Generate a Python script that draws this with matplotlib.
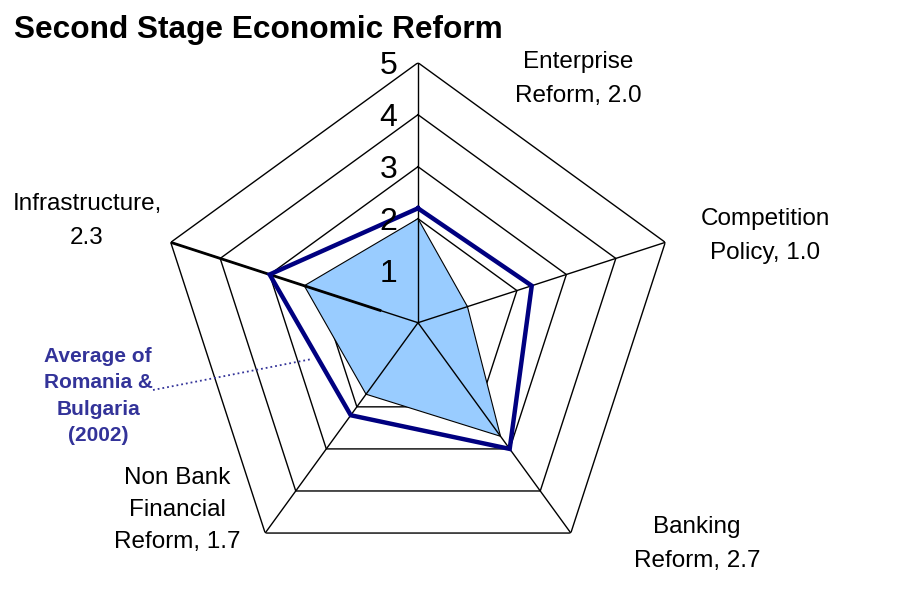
import numpy as np
import matplotlib.pyplot as plt
from matplotlib.lines import Line2D

plt.rcParams['font.family'] = ['Liberation Sans', 'DejaVu Sans']

# data
categories = ['Enterprise\nReform, 2.0', 'Competition\nPolicy, 1.0', 'Banking\nReform, 2.7',
              'Non Bank\nFinancial\nReform, 1.7', 'Infrastructure,\n2.3']
second_stage = [2.0, 1.0, 2.7, 1.7, 2.3]
romania_bulgaria = [2.2, 2.3, 3.0, 2.2, 3.0]   # Average of Romania & Bulgaria (2002)
levels = [1, 2, 3, 4, 5]

W, H = 910, 597
fig = plt.figure(figsize=(W / 100, H / 100), dpi=100)

def px(x, y):
    # pixel (from top-left) -> figure fraction
    return x / W, 1 - y / H

# radar centre and radius in pixels
cx, cy, R = 418, 322.7, 260
ax = fig.add_axes([(cx - R) / W, 1 - (cy + R) / H, 2 * R / W, 2 * R / H], projection='polar')
ax.set_theta_offset(np.pi / 2)
ax.set_theta_direction(-1)
ax.set_ylim(0, 5)
ax.axis('off')

n = len(categories)
theta = np.arange(n) * 2 * np.pi / n
tc = np.append(theta, theta[0])

# pentagon gridlines
for lv in levels:
    ax.plot(tc, [lv] * (n + 1), color='black', lw=1, zorder=1)

# filled series
vals = np.append(second_stage, second_stage[0])
ax.fill(tc, vals, facecolor='#99CCFF', edgecolor='black', lw=0.8, zorder=2)

# spokes
for t in theta:
    ax.plot([t, t], [0, 5], color='black', lw=1, zorder=3)
ax.plot([theta[4], theta[4]], [0.77, 5], color='black', lw=2, zorder=3)

# average outline
rb = np.append(romania_bulgaria, romania_bulgaria[0])
ax.plot(tc, rb, color='#000080', lw=3.2, zorder=4, solid_joinstyle='miter')

# scale numbers
for lv in levels:
    ax.annotate(str(lv), xy=(0, lv), xytext=(-15, -2.5), textcoords='offset points',
                ha='right', va='center', fontsize=23, zorder=5)

# category labels
label_pos = [(578, 79), (765, 236), (697, 544), (177, 510), (87, 221)]
spacing = [1.75, 1.75, 1.75, 1.6, 1.75]
for txt, (x, y), ls in zip(categories, label_pos, spacing):
    fig.text(*px(x, y), txt, ha='center', va='center', fontsize=17.5, linespacing=ls)

# title
fig.text(*px(14, 38), 'Second Stage Economic Reform', fontsize=22.8, fontweight='bold',
         ha='left', va='baseline')

# series annotation with dotted leader
fig.text(*px(98, 396), 'Average of\nRomania &\nBulgaria\n(2002)', ha='center', va='center',
         fontsize=15, fontweight='bold', color='#333399', linespacing=1.5)
x0, y0 = px(153, 390)
x1, y1 = px(312, 359)
fig.add_artist(Line2D([x0, x1], [y0, y1], ls=':', color='#333399', lw=1.3))

fig.savefig('out.png', dpi=100)
